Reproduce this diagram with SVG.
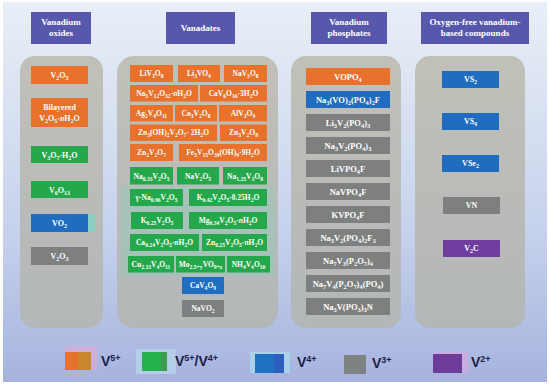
<svg xmlns="http://www.w3.org/2000/svg" width="550" height="386" viewBox="0 0 550 386">
<defs>
<linearGradient id="bg" x1="0" y1="0" x2="0" y2="1">
<stop offset="0" stop-color="#e9eff7"/>
<stop offset="0.6" stop-color="#c6d2ec"/>
<stop offset="1" stop-color="#a6b3de"/>
</linearGradient>
<linearGradient id="cg" x1="0" y1="0" x2="0" y2="1">
<stop offset="0" stop-color="#c1c0b8"/>
<stop offset="1" stop-color="#b3b7b8"/>
</linearGradient>
<style>
.hd{fill:#5757ac}
.ht{font:bold 9px "Liberation Serif",serif;fill:#fff;text-anchor:middle}
.col{fill:url(#cg)}
.o{fill:#e8712b}.g{fill:#25a84c}.b{fill:#1f6cc0}.k{fill:#7e7f7f}.p{fill:#6f3d9e}
.t{font:bold 7.5px "Liberation Serif",serif;fill:#fff;text-anchor:middle}
.t8{font:bold 8px "Liberation Serif",serif;fill:#fff;text-anchor:middle}
.t9{font:bold 8.5px "Liberation Serif",serif;fill:#fff;text-anchor:middle}
.s{font-size:75%;baseline-shift:-1.5px}
.i{font-style:italic}
.lt{font:bold 14px "Liberation Sans",sans-serif;fill:#1c1c48}
.sup{font-size:9px;baseline-shift:super}
</style>
</defs>
<rect x="0" y="0" width="550" height="386" fill="#ffffff"/>
<rect x="3" y="2" width="544" height="380" fill="url(#bg)"/>

<g id="headers">
<g id="h-oxides"><rect class="hd" x="31" y="12" width="60" height="32"/><text class="ht" x="61" y="25">Vanadium</text><text class="ht" x="61" y="36">oxides</text></g>
<g id="h-vanadates"><rect class="hd" x="166" y="12" width="69" height="32"/><text class="ht" x="200.5" y="31">Vanadates</text></g>
<g id="h-phosphates"><rect class="hd" x="311" y="12" width="76" height="32"/><text class="ht" x="349" y="25">Vanadium</text><text class="ht" x="349" y="36">phosphates</text></g>
<g id="h-oxygenfree"><rect class="hd" x="421" y="12" width="108" height="32"/><text class="ht" x="475" y="25">Oxygen-free vanadium-</text><text class="ht" x="475" y="36">based compounds</text></g>
</g>

<g id="columns">
<rect class="col" x="20" y="56" width="83" height="272" rx="15"/>
<rect class="col" x="117" y="56" width="161" height="272" rx="17"/>
<rect class="col" x="291" y="56" width="110" height="272" rx="15"/>
<rect class="col" x="415" y="56" width="110" height="272" rx="15"/>
</g>

<g id="oxides">
<g id="n-V2O5"><rect class="o" x="31" y="66" width="57" height="18"/><text class="t8" x="59.5" y="78">V<tspan class="s">2</tspan>O<tspan class="s">5</tspan></text></g>
<g id="n-bilayered"><rect class="o" x="31" y="98" width="57" height="29"/><text class="t8" x="59.5" y="110">Bilayered</text><text class="t8" x="59.5" y="121">V<tspan class="s">2</tspan>O<tspan class="s">5</tspan>·<tspan class="i">n</tspan>H<tspan class="s">2</tspan>O</text></g>
<g id="n-V3O7"><rect class="g" x="31" y="146" width="57" height="17"/><text class="t8" x="59.5" y="157.5">V<tspan class="s">3</tspan>O<tspan class="s">7</tspan>·H<tspan class="s">2</tspan>O</text></g>
<g id="n-V6O13"><rect class="g" x="31" y="181" width="57" height="17"/><text class="t8" x="59.5" y="192.5">V<tspan class="s">6</tspan>O<tspan class="s">13</tspan></text></g>
<g id="n-VO2"><rect x="80" y="214" width="15" height="18" fill="#8ccfc4"/><rect class="b" x="31" y="214" width="57" height="18"/><text class="t8" x="59.5" y="226">VO<tspan class="s">2</tspan></text></g>
<g id="n-V2O3"><rect class="k" x="31" y="247" width="57" height="18"/><text class="t8" x="59.5" y="259">V<tspan class="s">2</tspan>O<tspan class="s">3</tspan></text></g>
</g>

<g id="vanadates">
<rect x="121" y="186" width="153" height="90" fill="#84d2bd" opacity="0.35"/>
<g id="n-LiV3O8"><rect class="o" x="130" y="65" width="43" height="17"/><text class="t" x="151.5" y="76">LiV<tspan class="s">3</tspan>O<tspan class="s">8</tspan></text></g>
<g id="n-Li3VO4"><rect class="o" x="178" y="65" width="42" height="17"/><text class="t" x="199" y="76">Li<tspan class="s">3</tspan>VO<tspan class="s">4</tspan></text></g>
<g id="n-NaV3O8"><rect class="o" x="224" y="65" width="43" height="17"/><text class="t" x="245.5" y="76">NaV<tspan class="s">3</tspan>O<tspan class="s">8</tspan></text></g>

<g id="n-Na5V12O32"><rect class="o" x="130" y="85" width="68" height="16.5"/><text class="t" x="164" y="95.5">Na<tspan class="s">5</tspan>V<tspan class="s">12</tspan>O<tspan class="s">32</tspan>·<tspan class="i">n</tspan>H<tspan class="s">2</tspan>O</text></g>
<g id="n-CaV6O16"><rect class="o" x="200" y="85" width="67" height="16.5"/><text class="t" x="233.5" y="95.5">CaV<tspan class="s">6</tspan>O<tspan class="s">16</tspan>·3H<tspan class="s">2</tspan>O</text></g>

<g id="n-Ag2V4O11"><rect class="o" x="130" y="105" width="43" height="16.5"/><text class="t" x="151.5" y="115.5">Ag<tspan class="s">2</tspan>V<tspan class="s">4</tspan>O<tspan class="s">11</tspan></text></g>
<g id="n-Co3V2O8"><rect class="o" x="175" y="105" width="42" height="16.5"/><text class="t" x="196" y="115.5">Co<tspan class="s">3</tspan>V<tspan class="s">2</tspan>O<tspan class="s">8</tspan></text></g>
<g id="n-AlV3O9"><rect class="o" x="219" y="105" width="48" height="16.5"/><text class="t" x="243" y="115.5">AlV<tspan class="s">3</tspan>O<tspan class="s">9</tspan></text></g>

<g id="n-Zn3OH"><rect class="o" x="130" y="124.5" width="87" height="16.5"/><text class="t" x="173.5" y="135">Zn<tspan class="s">3</tspan>(OH)<tspan class="s">2</tspan>V<tspan class="s">2</tspan>O<tspan class="s">7</tspan>· 2H<tspan class="s">2</tspan>O</text></g>
<g id="n-Zn3V2O8"><rect class="o" x="220" y="124.5" width="47" height="16.5"/><text class="t" x="243.5" y="135">Zn<tspan class="s">3</tspan>V<tspan class="s">2</tspan>O<tspan class="s">8</tspan></text></g>

<g id="n-Zn2V2O7"><rect class="o" x="130" y="144" width="43" height="17"/><text class="t" x="151.5" y="155">Zn<tspan class="s">2</tspan>V<tspan class="s">2</tspan>O<tspan class="s">7</tspan></text></g>
<g id="n-Fe5V15"><rect class="o" x="179" y="144" width="88" height="17"/><text class="t" x="223" y="155">Fe<tspan class="s">5</tspan>V<tspan class="s">15</tspan>O<tspan class="s">39</tspan>(OH)<tspan class="s">9</tspan>·9H<tspan class="s">2</tspan>O</text></g>

<g id="n-Na033V2O5"><rect class="g" x="130" y="167" width="43" height="17.5"/><text class="t" x="151.5" y="178.5">Na<tspan class="s">0.33</tspan>V<tspan class="s">2</tspan>O<tspan class="s">5</tspan></text></g>
<g id="n-NaV2O5"><rect class="g" x="177" y="167" width="42" height="17.5"/><text class="t" x="198" y="178.5">NaV<tspan class="s">2</tspan>O<tspan class="s">5</tspan></text></g>
<g id="n-Na125V3O8"><rect class="g" x="223" y="167" width="44" height="17.5"/><text class="t" x="245" y="178.5">Na<tspan class="s">1.25</tspan>V<tspan class="s">3</tspan>O<tspan class="s">8</tspan></text></g>

<g id="n-gNa"><rect class="g" x="130" y="189" width="53" height="17"/><text class="t" x="156.5" y="200">γ-Na<tspan class="s">0.96</tspan>V<tspan class="s">2</tspan>O<tspan class="s">5</tspan></text></g>
<g id="n-K042"><rect class="g" x="189" y="189" width="78" height="17"/><text class="t" x="228" y="200">K<tspan class="s">0.42</tspan>V<tspan class="s">2</tspan>O<tspan class="s">5</tspan>·0.25H<tspan class="s">2</tspan>O</text></g>

<g id="n-K025"><rect class="g" x="131" y="212" width="52" height="17"/><text class="t" x="157" y="223">K<tspan class="s">0.25</tspan>V<tspan class="s">2</tspan>O<tspan class="s">5</tspan></text></g>
<g id="n-Mg034"><rect class="g" x="189" y="212" width="78" height="17"/><text class="t" x="228" y="223">Mg<tspan class="s">0.34</tspan>V<tspan class="s">2</tspan>O<tspan class="s">5</tspan>·<tspan class="i">n</tspan>H<tspan class="s">2</tspan>O</text></g>

<g id="n-Ca024"><rect class="g" x="130" y="234" width="69" height="17"/><text class="t" x="164.5" y="245">Ca<tspan class="s">0.24</tspan>V<tspan class="s">2</tspan>O<tspan class="s">5</tspan>·<tspan class="i">n</tspan>H<tspan class="s">2</tspan>O</text></g>
<g id="n-Zn025"><rect class="g" x="202" y="234" width="65" height="17"/><text class="t" x="234.5" y="245">Zn<tspan class="s">0.25</tspan>V<tspan class="s">2</tspan>O<tspan class="s">5</tspan>·<tspan class="i">n</tspan>H<tspan class="s">2</tspan>O</text></g>

<g id="n-Cu233"><rect class="g" x="128" y="256" width="46" height="16.5"/><text class="t" x="151" y="267">Cu<tspan class="s">2.33</tspan>V<tspan class="s">4</tspan>O<tspan class="s">11</tspan></text></g>
<g id="n-Mo"><rect class="g" x="176" y="256" width="49" height="16.5"/><text class="t" x="200.5" y="267">Mo<tspan class="s">2.5+y</tspan>VO<tspan class="s">9+z</tspan></text></g>
<g id="n-NH4V4O10"><rect class="g" x="227" y="256" width="43" height="16.5"/><text class="t" x="248.5" y="267">NH<tspan class="s">4</tspan>V<tspan class="s">4</tspan>O<tspan class="s">10</tspan></text></g>

<g id="n-CaV4O9"><rect class="b" x="182" y="277" width="42" height="17"/><text class="t" x="203" y="288">CaV<tspan class="s">4</tspan>O<tspan class="s">9</tspan></text></g>
<g id="n-NaVO2"><rect class="k" x="182" y="300" width="42" height="17"/><text class="t" x="203" y="311">NaVO<tspan class="s">2</tspan></text></g>
</g>

<g id="phosphates">
<g id="n-VOPO4"><rect class="o" x="306" y="68" width="84" height="17"/><text class="t9" x="348" y="79.5">VOPO<tspan class="s">4</tspan></text></g>
<g id="n-Na3VO2"><rect class="b" x="306" y="91" width="84" height="17"/><text class="t9" x="348" y="102.5">Na<tspan class="s">3</tspan>(VO)<tspan class="s">2</tspan>(PO<tspan class="s">4</tspan>)<tspan class="s">2</tspan>F</text></g>
<g id="n-Li3V2"><rect class="k" x="306" y="114" width="84" height="17"/><text class="t9" x="348" y="125.5">Li<tspan class="s">3</tspan>V<tspan class="s">2</tspan>(PO<tspan class="s">4</tspan>)<tspan class="s">3</tspan></text></g>
<g id="n-Na3V2"><rect class="k" x="306" y="137" width="84" height="17"/><text class="t9" x="348" y="148.5">Na<tspan class="s">3</tspan>V<tspan class="s">2</tspan>(PO<tspan class="s">4</tspan>)<tspan class="s">3</tspan></text></g>
<g id="n-LiVPO4F"><rect class="k" x="306" y="160" width="84" height="17"/><text class="t9" x="348" y="171.5">LiVPO<tspan class="s">4</tspan>F</text></g>
<g id="n-NaVPO4F"><rect class="k" x="306" y="183" width="84" height="17"/><text class="t9" x="348" y="194.5">NaVPO<tspan class="s">4</tspan>F</text></g>
<g id="n-KVPO4F"><rect class="k" x="306" y="206" width="84" height="17"/><text class="t9" x="348" y="217.5">KVPO<tspan class="s">4</tspan>F</text></g>
<g id="n-Na3V2F3"><rect class="k" x="306" y="229" width="84" height="17"/><text class="t9" x="348" y="240.5">Na<tspan class="s">3</tspan>V<tspan class="s">2</tspan>(PO<tspan class="s">4</tspan>)<tspan class="s">2</tspan>F<tspan class="s">3</tspan></text></g>
<g id="n-Na7V3"><rect class="k" x="306" y="252" width="84" height="17"/><text class="t9" x="348" y="263.5">Na<tspan class="s">7</tspan>V<tspan class="s">3</tspan>(P<tspan class="s">2</tspan>O<tspan class="s">7</tspan>)<tspan class="s">4</tspan></text></g>
<g id="n-Na7V4"><rect class="k" x="306" y="275" width="84" height="17"/><text class="t9" x="348" y="286.5">Na<tspan class="s">7</tspan>V<tspan class="s">4</tspan>(P<tspan class="s">2</tspan>O<tspan class="s">7</tspan>)<tspan class="s">4</tspan>(PO<tspan class="s">4</tspan>)</text></g>
<g id="n-Na3VPO3N"><rect class="k" x="306" y="298" width="84" height="17"/><text class="t9" x="348" y="309.5">Na<tspan class="s">3</tspan>V(PO<tspan class="s">3</tspan>)<tspan class="s">3</tspan>N</text></g>
</g>

<g id="oxygenfree">
<g id="n-VS2"><rect class="b" x="442" y="71" width="57" height="17"/><text class="t8" x="470.5" y="82">VS<tspan class="s">2</tspan></text></g>
<g id="n-VS4"><rect class="b" x="442" y="113" width="57" height="17"/><text class="t8" x="470.5" y="124">VS<tspan class="s">4</tspan></text></g>
<g id="n-VSe2"><rect class="b" x="442" y="155" width="57" height="17"/><text class="t8" x="470.5" y="166">VSe<tspan class="s">2</tspan></text></g>
<g id="n-VN"><rect class="k" x="443" y="197" width="57" height="17"/><text class="t8" x="471.5" y="208">VN</text></g>
<g id="n-V2C"><rect class="p" x="443" y="240" width="57" height="17"/><text class="t8" x="471.5" y="251">V<tspan class="s">2</tspan>C</text></g>
</g>

<g id="legend">
<g id="l-v5"><rect x="65" y="346" width="32" height="24" fill="#e7a6d6" opacity="0.6"/><rect x="65" y="352" width="13" height="18" fill="#e8712b"/><rect x="78" y="352" width="13" height="18" fill="#c8872c"/><text class="lt" x="101" y="366">V<tspan class="sup">5+</tspan></text></g>
<g id="l-v54"><rect x="136" y="349" width="40" height="25" fill="#b9d9ec" opacity="0.7"/><rect x="142" y="352" width="19" height="19" fill="#25b04e"/><rect x="161" y="352" width="6" height="19" fill="#3f9a52"/><text class="lt" x="175" y="366">V<tspan class="sup">5+</tspan>/V<tspan class="sup">4+</tspan></text></g>
<g id="l-v4"><rect x="250" y="352" width="40" height="21" fill="#a9dced" opacity="0.7"/><rect x="255" y="354" width="19" height="19" fill="#1f72c2"/><rect x="274" y="354" width="10" height="19" fill="#2e5fbf"/><text class="lt" x="297" y="367">V<tspan class="sup">4+</tspan></text></g>
<g id="l-v3"><rect x="344" y="355" width="22" height="19" fill="#7e8382"/><text class="lt" x="372" y="368">V<tspan class="sup">3+</tspan></text></g>
<g id="l-v2"><rect x="433" y="352" width="35" height="21" fill="#d9a6dc" opacity="0.6"/><rect x="433" y="354" width="29" height="19" fill="#6d3c9a"/><text class="lt" x="471" y="367">V<tspan class="sup">2+</tspan></text></g>
</g>
</svg>
